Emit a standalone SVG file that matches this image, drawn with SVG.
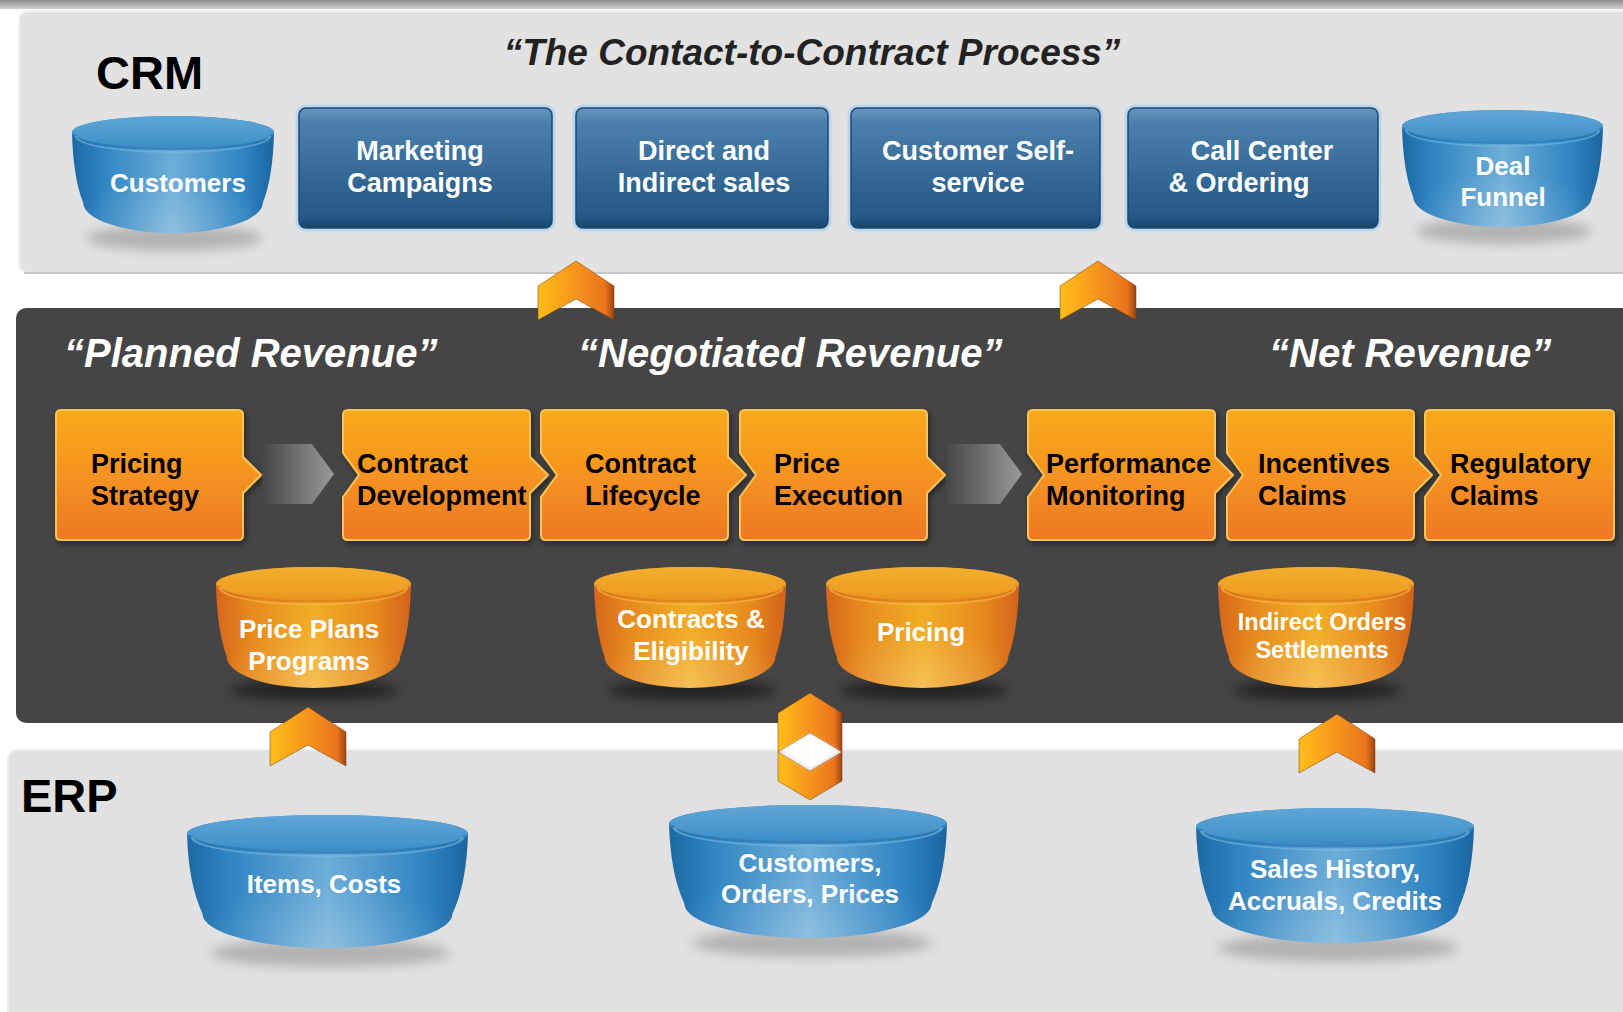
<svg xmlns="http://www.w3.org/2000/svg" xmlns:xlink="http://www.w3.org/1999/xlink" width="1623" height="1012" viewBox="0 0 1623 1012">
  <style>
    text { font-family: "Liberation Sans", Arial, Helvetica, sans-serif; font-weight: bold; }
    .head { font-size: 47px; fill: #000; }
    .title { font-size: 37px; font-style: italic; fill: #222; }
    .stage { font-size: 40px; font-style: italic; fill: #fff; }
    .box { font-size: 27px; fill: #fff; text-anchor: middle; }
    .step { font-size: 27px; fill: #000; }
    .db { font-size: 26px; fill: #fff; text-anchor: middle; }
    .bluebox { fill: url(#boxBlue); stroke: #1b4770; stroke-width: 1.5; }
    .halo { fill: none; stroke: #a9d2f2; stroke-width: 3; opacity: 0.7; }
    .stepbox { fill: url(#stepFill); stroke: #fcc458; stroke-width: 2; stroke-linejoin: round; filter: url(#drop); }
    .chev { fill: url(#chevFill); stroke: #7a3a0e; stroke-width: 1; stroke-opacity: 0.5; }
    .greyarrow { fill: url(#greyFill); }
    .shadowL { fill: #6d6d6d; opacity: 0.4; filter: url(#soft); }
    .shadowD { fill: #000; opacity: 0.5; filter: url(#soft); }
    .cylHaloL { fill: none; stroke: #bfe0f6; stroke-width: 3; opacity: 0.8; }
  </style>
  <defs>
    <linearGradient id="topBar" x1="0" y1="0" x2="0" y2="1">
      <stop offset="0" stop-color="#8c8c8c"/>
      <stop offset="1" stop-color="#cfcfcf"/>
    </linearGradient>
    <linearGradient id="boxBlue" x1="0" y1="0" x2="0" y2="1">
      <stop offset="0" stop-color="#6596c0"/>
      <stop offset="0.12" stop-color="#4c80ac"/>
      <stop offset="0.55" stop-color="#356a97"/>
      <stop offset="0.9" stop-color="#245986"/>
      <stop offset="1" stop-color="#17446c"/>
    </linearGradient>
    <linearGradient id="blueSide" x1="0" y1="0" x2="1" y2="0">
      <stop offset="0" stop-color="#1c69a4"/>
      <stop offset="0.15" stop-color="#2f84c2"/>
      <stop offset="0.5" stop-color="#6eaed8"/>
      <stop offset="0.85" stop-color="#2f84c2"/>
      <stop offset="1" stop-color="#1b65a1"/>
    </linearGradient>
    <linearGradient id="blueTop" x1="0" y1="0" x2="0" y2="1">
      <stop offset="0" stop-color="#5fa6d7"/>
      <stop offset="0.7" stop-color="#4896cc"/>
      <stop offset="1" stop-color="#3a89c4"/>
    </linearGradient>
    <linearGradient id="orSide" x1="0" y1="0" x2="1" y2="0">
      <stop offset="0" stop-color="#d8661a"/>
      <stop offset="0.18" stop-color="#e68a1e"/>
      <stop offset="0.5" stop-color="#f2ae26"/>
      <stop offset="0.82" stop-color="#e68a1e"/>
      <stop offset="1" stop-color="#d4621a"/>
    </linearGradient>
    <linearGradient id="orTop" x1="0" y1="0" x2="0" y2="1">
      <stop offset="0" stop-color="#f2ae2c"/>
      <stop offset="0.7" stop-color="#eea024"/>
      <stop offset="1" stop-color="#e8921f"/>
    </linearGradient>
    <radialGradient id="shine" cx="0.5" cy="1" r="0.5">
      <stop offset="0" stop-color="#fff" stop-opacity="0.22"/>
      <stop offset="1" stop-color="#fff" stop-opacity="0"/>
    </radialGradient>
    <linearGradient id="stepFill" x1="0" y1="0" x2="0" y2="1">
      <stop offset="0" stop-color="#f9aa19"/>
      <stop offset="0.5" stop-color="#f59320"/>
      <stop offset="1" stop-color="#ee7822"/>
    </linearGradient>
    <linearGradient id="chevFill" x1="0" y1="0" x2="1" y2="0">
      <stop offset="0" stop-color="#ffbe18"/>
      <stop offset="0.45" stop-color="#f7981c"/>
      <stop offset="0.88" stop-color="#ea741c"/>
      <stop offset="1" stop-color="#9a4512"/>
    </linearGradient>
    <linearGradient id="greyFill" x1="0" y1="0" x2="1" y2="0">
      <stop offset="0" stop-color="#464646"/>
      <stop offset="1" stop-color="#9a9a9a"/>
    </linearGradient>
    <filter id="soft" x="-30%" y="-100%" width="160%" height="300%">
      <feGaussianBlur stdDeviation="6"/>
    </filter>
    <filter id="glow" x="-50%" y="-50%" width="200%" height="200%">
      <feGaussianBlur stdDeviation="2"/>
    </filter>
    <filter id="drop" x="-10%" y="-10%" width="130%" height="130%">
      <feDropShadow dx="2" dy="3" stdDeviation="3" flood-color="#000" flood-opacity="0.45"/>
    </filter>
    <!-- unit puck-shaped cylinders, stretched to each node's box -->
    <symbol id="cylBlue" viewBox="0 0 100 100" preserveAspectRatio="none">
      <path d="M0,14 A50,14 0 0 1 100,14 Q99.5,52 94.5,74 A44.5,26 0 0 1 5.5,74 Q0.5,52 0,14 Z" fill="url(#blueSide)"/>
      <path d="M0,14 A50,14 0 0 1 100,14 Q99.5,52 94.5,74 A44.5,26 0 0 1 5.5,74 Q0.5,52 0,14 Z" fill="url(#shine)"/>
      <ellipse cx="50" cy="14" rx="50" ry="14" fill="url(#blueTop)"/>
      <path d="M1,15 A49,13.5 0 0 0 99,15" fill="none" stroke="#2a78b4" stroke-width="1.6" opacity="0.7"/>
      <path d="M2,17 A48,14 0 0 0 98,17" fill="none" stroke="#7cbbe2" stroke-width="1.2" opacity="0.6"/>
    </symbol>
    <symbol id="cylOrange" viewBox="0 0 100 100" preserveAspectRatio="none">
      <path d="M0,14 A50,14 0 0 1 100,14 Q99.5,52 94.5,74 A44.5,26 0 0 1 5.5,74 Q0.5,52 0,14 Z" fill="url(#orSide)"/>
      <path d="M0,14 A50,14 0 0 1 100,14 Q99.5,52 94.5,74 A44.5,26 0 0 1 5.5,74 Q0.5,52 0,14 Z" fill="url(#shine)"/>
      <ellipse cx="50" cy="14" rx="50" ry="14" fill="url(#orTop)"/>
      <path d="M1,15 A49,13.5 0 0 0 99,15" fill="none" stroke="#d9781c" stroke-width="1.6" opacity="0.7"/>
      <path d="M2,17 A48,14 0 0 0 98,17" fill="none" stroke="#f8c04a" stroke-width="1.2" opacity="0.6"/>
    </symbol>
  </defs>

  <!-- backdrop and the three layers -->
  <rect width="1623" height="1012" fill="#fff"/>
  <rect width="1623" height="9" fill="url(#topBar)"/>
  <g id="crm-panel">
    <rect x="19" y="11" width="1620" height="262" rx="9" fill="#e2e2e2" stroke="#f2f2f2" stroke-width="2"/>
    <line x1="24" y1="273" x2="1623" y2="273" stroke="#c6c6c6" stroke-width="2"/>
  </g>
  <g id="revenue-panel">
    <rect x="16" y="308" width="1630" height="415" rx="10" fill="#454545"/>
  </g>
  <g id="erp-panel">
    <rect x="8" y="750" width="1640" height="280" rx="10" fill="#e1e1e1" stroke="#eeeeee" stroke-width="2"/>
  </g>

  <!-- headings -->
  <text class="head" x="96" y="89">CRM</text>
  <text class="head" x="21" y="812">ERP</text>
  <text class="title" x="812" y="65" text-anchor="middle">“The Contact-to-Contract Process”</text>
  <text class="stage" x="64" y="367">“Planned Revenue”</text>
  <text class="stage" x="578" y="367">“Negotiated Revenue”</text>
  <text class="stage" x="1269" y="367">“Net Revenue”</text>

  <!-- CRM row -->
  <g id="customers">
    <ellipse class="shadowL" cx="174" cy="238" rx="88" ry="13"/>
    <use xlink:href="#cylBlue" x="72" y="116" width="202" height="117"/>
    <text class="db" x="178" y="192">Customers</text>
  </g>
  <g id="marketing-campaigns">
    <rect class="halo" x="297" y="106" width="257" height="124" rx="9"/>
    <rect class="bluebox" x="299" y="108" width="253" height="120" rx="7"/>
    <text class="box" x="420" y="160">Marketing</text>
    <text class="box" x="420" y="192">Campaigns</text>
  </g>
  <g id="direct-indirect-sales">
    <rect class="halo" x="574" y="106" width="256" height="124" rx="9"/>
    <rect class="bluebox" x="576" y="108" width="252" height="120" rx="7"/>
    <text class="box" x="704" y="160">Direct and</text>
    <text class="box" x="704" y="192">Indirect sales</text>
  </g>
  <g id="customer-self-service">
    <rect class="halo" x="849" y="106" width="253" height="124" rx="9"/>
    <rect class="bluebox" x="851" y="108" width="249" height="120" rx="7"/>
    <text class="box" x="978" y="160">Customer Self-</text>
    <text class="box" x="978" y="192">service</text>
  </g>
  <g id="call-center-ordering">
    <rect class="halo" x="1126" y="106" width="254" height="124" rx="9"/>
    <rect class="bluebox" x="1128" y="108" width="250" height="120" rx="7"/>
    <text class="box" x="1262" y="160">Call Center</text>
    <text class="box" x="1239" y="192">&amp; Ordering</text>
  </g>
  <g id="deal-funnel">
    <ellipse class="shadowL" cx="1504" cy="231" rx="88" ry="13"/>
    <use xlink:href="#cylBlue" x="1402" y="110" width="201" height="117"/>
    <text class="db" x="1503" y="175">Deal</text>
    <text class="db" x="1503" y="206">Funnel</text>
  </g>

  <!-- revenue process steps -->
  <g id="pricing-strategy">
    <path class="stepbox" d="M61,410 H238 Q243,410 243,415 V457 L261,475 L243,493 V535 Q243,540 238,540 H61 Q56,540 56,535 V415 Q56,410 61,410 Z"/>
    <text class="step" x="91" y="473">Pricing</text>
    <text class="step" x="91" y="505">Strategy</text>
  </g>
  <g id="contract-development">
    <path class="stepbox" d="M348,410 H525 Q530,410 530,415 V457 L548,475 L530,493 V535 Q530,540 525,540 H348 Q343,540 343,535 V497 L359,475 L343,453 V415 Q343,410 348,410 Z"/>
    <text class="step" x="357" y="473">Contract</text>
    <text class="step" x="357" y="505">Development</text>
  </g>
  <g id="contract-lifecycle">
    <path class="stepbox" d="M546,410 H723 Q728,410 728,415 V457 L746,475 L728,493 V535 Q728,540 723,540 H546 Q541,540 541,535 V497 L557,475 L541,453 V415 Q541,410 546,410 Z"/>
    <text class="step" x="585" y="473">Contract</text>
    <text class="step" x="585" y="505">Lifecycle</text>
  </g>
  <g id="price-execution">
    <path class="stepbox" d="M745,410 H922 Q927,410 927,415 V457 L945,475 L927,493 V535 Q927,540 922,540 H745 Q740,540 740,535 V497 L756,475 L740,453 V415 Q740,410 745,410 Z"/>
    <text class="step" x="774" y="473">Price</text>
    <text class="step" x="774" y="505">Execution</text>
  </g>
  <g id="performance-monitoring">
    <path class="stepbox" d="M1033,410 H1210 Q1215,410 1215,415 V457 L1233,475 L1215,493 V535 Q1215,540 1210,540 H1033 Q1028,540 1028,535 V497 L1044,475 L1028,453 V415 Q1028,410 1033,410 Z"/>
    <text class="step" x="1046" y="473">Performance</text>
    <text class="step" x="1046" y="505">Monitoring</text>
  </g>
  <g id="incentives-claims">
    <path class="stepbox" d="M1232,410 H1409 Q1414,410 1414,415 V457 L1432,475 L1414,493 V535 Q1414,540 1409,540 H1232 Q1227,540 1227,535 V497 L1243,475 L1227,453 V415 Q1227,410 1232,410 Z"/>
    <text class="step" x="1258" y="473">Incentives</text>
    <text class="step" x="1258" y="505">Claims</text>
  </g>
  <g id="regulatory-claims">
    <path class="stepbox" d="M1430,410 H1609 Q1614,410 1614,415 V535 Q1614,540 1609,540 H1430 Q1425,540 1425,535 V497 L1441,475 L1425,453 V415 Q1425,410 1430,410 Z"/>
    <text class="step" x="1450" y="473">Regulatory</text>
    <text class="step" x="1450" y="505">Claims</text>
  </g>

  <!-- revenue data stores -->
  <g id="price-plans-programs">
    <ellipse class="shadowD" cx="314" cy="690" rx="84" ry="10"/>
    <use xlink:href="#cylOrange" x="216" y="567" width="195" height="121"/>
    <text class="db" x="309" y="638">Price Plans</text>
    <text class="db" x="309" y="670">Programs</text>
  </g>
  <g id="contracts-eligibility">
    <ellipse class="shadowD" cx="692" cy="690" rx="84" ry="10"/>
    <use xlink:href="#cylOrange" x="594" y="567" width="192" height="121"/>
    <text class="db" x="691" y="628">Contracts &amp;</text>
    <text class="db" x="691" y="660">Eligibility</text>
  </g>
  <g id="pricing">
    <ellipse class="shadowD" cx="924" cy="690" rx="84" ry="10"/>
    <use xlink:href="#cylOrange" x="826" y="567" width="193" height="121"/>
    <text class="db" x="921" y="641">Pricing</text>
  </g>
  <g id="indirect-orders-settlements">
    <ellipse class="shadowD" cx="1318" cy="690" rx="84" ry="10"/>
    <use xlink:href="#cylOrange" x="1218" y="567" width="196" height="121"/>
    <text class="db" x="1322" y="630" style="font-size:23.5px">Indirect Orders</text>
    <text class="db" x="1322" y="658" style="font-size:23.5px">Settlements</text>
  </g>

  <!-- ERP data stores -->
  <g id="items-costs">
    <ellipse class="shadowL" cx="330" cy="953" rx="120" ry="14"/>
    <use xlink:href="#cylBlue" x="187" y="815" width="281" height="133"/>
    <text class="db" x="324" y="893">Items, Costs</text>
  </g>
  <g id="customers-orders-prices">
    <ellipse class="shadowL" cx="812" cy="943" rx="120" ry="14"/>
    <use xlink:href="#cylBlue" x="669" y="805" width="278" height="133"/>
    <text class="db" x="810" y="872">Customers,</text>
    <text class="db" x="810" y="903">Orders, Prices</text>
  </g>
  <g id="sales-history">
    <ellipse class="shadowL" cx="1338" cy="948" rx="120" ry="14"/>
    <use xlink:href="#cylBlue" x="1196" y="808" width="278" height="135"/>
    <text class="db" x="1335" y="878">Sales History,</text>
    <text class="db" x="1335" y="910">Accruals, Credits</text>
  </g>

  <!-- flow markers between layers and steps -->
  <g id="connectors">
    <path class="greyarrow" d="M262,444 H312 L334,474 L312,504 H262 Z"/>
    <path class="greyarrow" d="M946,444 H1000 L1022,474 L1000,504 H946 Z"/>
    <polygon class="chev" points="576,261 614,286 614,320 576,299 538,320 538,286"/>
    <polygon class="chev" points="1098,261 1136,286 1136,320 1098,299 1060,320 1060,286"/>
    <polygon class="chev" points="308,707 346,732 346,766 308,745 270,766 270,732"/>
    <polygon class="chev" points="1337,714 1375,739 1375,773 1337,752 1299,773 1299,739"/>
    <polygon class="chev" points="810,693 842,713 842,752 810,733 778,752 778,713"/>
    <polygon class="chev" points="778,752 810,771 842,752 842,781 810,800 778,781"/>
    <polygon points="810,735 838,752 810,769 782,752" fill="#fff" filter="url(#glow)"/>
    <polygon points="810,738 833,752 810,766 787,752" fill="#fff"/>
  </g>
</svg>
